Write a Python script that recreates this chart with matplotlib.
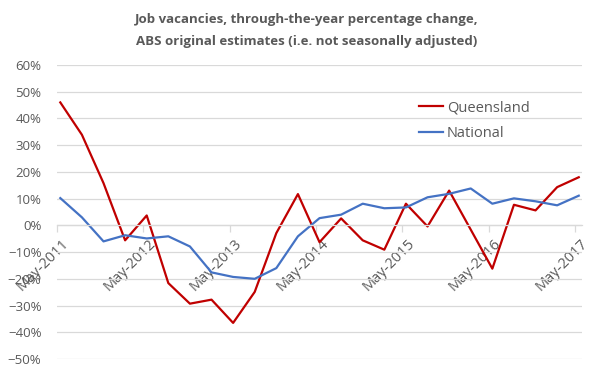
import matplotlib
matplotlib.use("Agg")
import matplotlib.pyplot as plt
import matplotlib.transforms as mtransforms
from matplotlib.ticker import PercentFormatter

plt.rcParams['font.family'] = ['Open Sans', 'DejaVu Sans']

# quarterly data, May-2011 .. May-2017 (month offset from May-2011)
months = list(range(0, 73, 3))
queensland = [46.0, 33.9, 15.8, -5.6, 3.7, -21.6, -29.3, -27.8, -36.5, -24.9,
              -2.9, 11.7, -6.3, 2.6, -5.6, -9.1, 8.1, -0.4, 13.0, -1.6,
              -16.2, 7.7, 5.6, 14.3, 18.0]
national = [10.2, 3.0, -6.0, -3.7, -4.9, -4.1, -7.9, -17.6, -19.3, -20.0,
            -16.0, -4.1, 2.7, 4.0, 8.1, 6.4, 6.7, 10.5, 11.8, 13.8,
            8.1, 10.1, 9.0, 7.5, 11.1]
tick_labels = ["May-2011", "May-2012", "May-2013", "May-2014",
               "May-2015", "May-2016", "May-2017"]

grey = "#595959"

fig = plt.figure(figsize=(6.13, 3.79), dpi=100)
ax = fig.add_axes([0.0925, 0.0528, 0.8575, 0.7757])

# spine position first - it resets the ticks
for s in ["top", "right", "left"]:
    ax.spines[s].set_visible(False)
ax.spines["bottom"].set_position(("data", 0))
ax.spines["bottom"].set_color("#d9d9d9")
ax.spines["bottom"].set_linewidth(0.9)

# points sit in the middle of their month slot
x = [m + 0.5 for m in months]
ax.plot(x, [v / 100 for v in queensland], color="#C00000", lw=1.6, label="Queensland")
ax.plot(x, [v / 100 for v in national], color="#4472C4", lw=1.6, label="National")

ax.set_xlim(0, 73)
ax.set_ylim(-0.5, 0.6)
ax.set_yticks([i / 10 for i in range(-5, 7)])
ax.yaxis.set_major_formatter(PercentFormatter(1.0, decimals=0))
ax.yaxis.grid(True, color="#d9d9d9", lw=0.9)
ax.set_axisbelow(True)

ax.set_xticks(range(0, 73, 12))
ax.set_xticklabels(tick_labels, rotation=45, ha="right", va="top",
                   rotation_mode="anchor")
ax.tick_params(axis="x", colors="#d9d9d9", labelcolor=grey, length=5,
               width=0.9, labelsize=10.5, pad=3)
ax.tick_params(axis="y", length=0, labelcolor=grey, labelsize=9.5, pad=11)

# excel puts the end of the label a little right of the tick
shift = mtransforms.ScaledTranslation(5 / 100, 0, fig.dpi_scale_trans)
for lab in ax.get_xticklabels():
    lab.set_transform(lab.get_transform() + shift)

ax.legend(loc="upper left", bbox_to_anchor=(0.665, 0.925), frameon=False,
          fontsize=10.5, labelcolor=grey, handlelength=1.6, handletextpad=0.3,
          labelspacing=0.75)

fig.text(0.5, 0.965, "Job vacancies, through-the-year percentage change,\n"
         "ABS original estimates (i.e. not seasonally adjusted)",
         ha="center", va="top", fontsize=9.5, fontweight="bold", color=grey,
         linespacing=1.85)

fig.savefig("out.png", dpi=100)
